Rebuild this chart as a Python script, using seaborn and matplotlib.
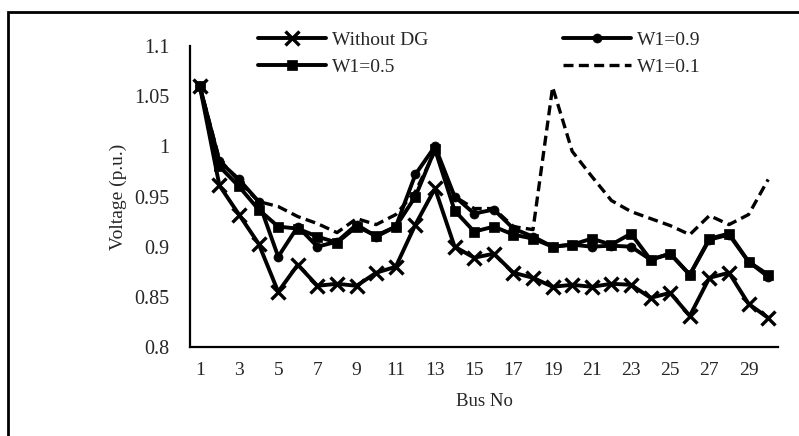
import numpy as np
import pandas as pd
import matplotlib
matplotlib.use('Agg')
import matplotlib.pyplot as plt
import matplotlib.ticker as mticker
from matplotlib.patches import Rectangle
import seaborn as sns

bus_no = np.arange(1, 31)

without_dg = [1.06, 0.961, 0.932, 0.903, 0.855, 0.882, 0.861, 0.863, 0.861, 0.874,
              0.880, 0.922, 0.958, 0.900, 0.889, 0.893, 0.874, 0.869, 0.860, 0.862,
              0.860, 0.863, 0.862, 0.849, 0.854, 0.831, 0.869, 0.874, 0.843, 0.829]
w1_09 = [1.06, 0.985, 0.967, 0.945, 0.890, 0.920, 0.900, 0.905, 0.922, 0.910,
         0.920, 0.972, 1.000, 0.950, 0.933, 0.937, 0.918, 0.910, 0.900, 0.902,
         0.900, 0.901, 0.900, 0.887, 0.893, 0.872, 0.907, 0.912, 0.885, 0.870]
w1_05 = [1.06, 0.980, 0.960, 0.937, 0.920, 0.918, 0.910, 0.904, 0.920, 0.911,
         0.920, 0.950, 0.997, 0.936, 0.915, 0.920, 0.912, 0.908, 0.900, 0.902,
         0.908, 0.902, 0.913, 0.887, 0.893, 0.872, 0.908, 0.913, 0.885, 0.872]
w1_01 = [1.06, 0.987, 0.965, 0.945, 0.940, 0.930, 0.923, 0.914, 0.928, 0.922,
         0.932, 0.955, 0.995, 0.950, 0.938, 0.938, 0.920, 0.917, 1.059, 0.995,
         0.970, 0.946, 0.935, 0.928, 0.921, 0.912, 0.931, 0.922, 0.932, 0.967]

y_ticks = [0.8, 0.85, 0.9, 0.95, 1.0, 1.05, 1.1]

sns.set_style('white')
plt.rcParams['font.family'] = ['Liberation Serif', 'DejaVu Serif']

fig = plt.figure(figsize=(7.99, 4.36), dpi=100)
ax = fig.add_axes([190 / 799, 1 - 347 / 436, (778 - 190) / 799, (347 - 46) / 436])

df = pd.DataFrame({'bus': bus_no, 'Without DG': without_dg, 'W1=0.9': w1_09,
                   'W1=0.5': w1_05, 'W1=0.1': w1_01})

lw = 2.8
mk = dict(markeredgecolor='black', markerfacecolor='black')
sns.lineplot(data=df, x='bus', y='Without DG', ax=ax, color='black', lw=lw,
             marker='x', markersize=10, markeredgewidth=2.4, label='Without DG', **mk)
sns.lineplot(data=df, x='bus', y='W1=0.5', ax=ax, color='black', lw=lw,
             marker='s', markersize=6.5, markeredgewidth=0.5, label='W1=0.5', **mk)
sns.lineplot(data=df, x='bus', y='W1=0.9', ax=ax, color='black', lw=lw,
             marker='o', markersize=6.5, markeredgewidth=0.5, label='W1=0.9', **mk)
sns.lineplot(data=df, x='bus', y='W1=0.1', ax=ax, color='black', lw=2.4,
             linestyle=(0, (3.0, 1.6)), label='W1=0.1')

ax.set_xlim(0.5, 30.5)
ax.set_ylim(0.8, 1.1)
ax.set_yticks(y_ticks)
ax.yaxis.set_major_formatter(mticker.FuncFormatter(lambda v, p: '%g' % round(v, 2)))

ax.set_xticks(np.arange(0.5, 31, 1))
ax.set_xticklabels([])
ax.set_xticks(bus_no[::2], minor=True)
ax.set_xticklabels([str(b) for b in bus_no[::2]], minor=True)
ax.tick_params(axis='x', which='major', direction='out', length=5, width=1.2, color='black')
ax.tick_params(axis='x', which='minor', length=0, pad=11, labelsize=14)
ax.tick_params(axis='y', direction='out', length=6, width=1.2, color='black', pad=9,
               labelsize=14.5)

sns.despine(ax=ax)
for s in ['left', 'bottom']:
    ax.spines[s].set_color('black')
    ax.spines[s].set_linewidth(1.6)

ax.set_xlabel('Bus No', fontsize=13.5, labelpad=10)
ax.set_ylabel('Voltage (p.u.)', fontsize=14, labelpad=5)

leg = ax.legend(ncol=2, loc='upper left', bbox_to_anchor=(0.103, 1.075), frameon=False,
                fontsize=14, handlelength=3.5, columnspacing=6.9, handletextpad=0.3,
                labelspacing=0.5, borderaxespad=0)

fig.patches.append(Rectangle((8 / 799, -0.1), 1.2, 1 - 12 / 436 + 0.1,
                             transform=fig.transFigure, fill=False,
                             edgecolor='black', linewidth=2))

fig.savefig('out.png', dpi=100)
